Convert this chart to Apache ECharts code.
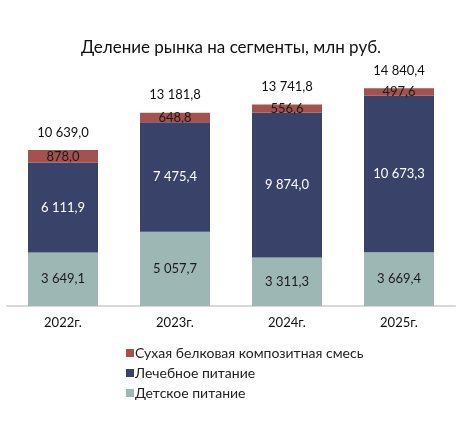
<!DOCTYPE html>
<html>
<head>
<meta charset="utf-8">
<script src="https://cdn.jsdelivr.net/npm/echarts@6/dist/echarts.min.js"></script>
<style>
  html, body { margin: 0; padding: 0; background: #fff; }
  #chart { width: 462px; height: 444px; }
</style>
</head>
<body>
<div id="chart"></div>
<script>
var years = ["2022г.", "2023г.", "2024г.", "2025г."];
var detskoe = [3649.1, 5057.7, 3311.3, 3669.4];
var lechebnoe = [6111.9, 7475.4, 9874.0, 10673.3];
var sukhaya = [878.0, 648.8, 556.6, 497.6];
var totals = [10639.0, 13181.8, 13741.8, 14840.4];

// 10639 -> "10 639,0"
function fmt(v) {
  var parts = v.toFixed(1).split(".");
  return parts[0].replace(/\B(?=(\d{3})+(?!\d))/g, " ") + "," + parts[1];
}

var chart = echarts.init(document.getElementById("chart"));
var font = "Lato, 'Noto Sans', sans-serif";

var option = {
  textStyle: { fontFamily: font },
  title: {
    text: "Деление рынка на сегменты, млн руб.",
    left: "center",
    top: 34,
    textStyle: { fontSize: 17, fontWeight: "normal", color: "#111", fontFamily: font }
  },
  legend: {
    orient: "vertical",
    left: 121,
    top: 341,
    itemWidth: 8,
    itemHeight: 8,
    itemGap: 6,
    icon: "rect",
    textStyle: { fontSize: 14, color: "#222", padding: [0, 0, 0, -4] },
    data: ["Сухая белковая композитная смесь", "Лечебное питание", "Детское питание"]
  },
  grid: { left: 7, right: 7, top: 86, bottom: 138 },
  xAxis: {
    type: "category",
    data: years,
    axisLine: { lineStyle: { color: "#d9d9d9", width: 2 } },
    axisTick: { show: false },
    axisLabel: { fontSize: 13, color: "#111", margin: 10 }
  },
  yAxis: { type: "value", min: 0, max: 15000, show: false, splitLine: { show: false } },
  series: [
    {
      name: "Детское питание",
      type: "bar",
      stack: "t",
      barWidth: 70,
      itemStyle: { color: "#9db8b4" },
      label: { show: true, position: "inside", color: "#1a1a1a", fontSize: 13,
        formatter: function (p) { return fmt(p.value); } },
      data: detskoe
    },
    {
      name: "Лечебное питание",
      type: "bar",
      stack: "t",
      itemStyle: { color: "#394369" },
      label: { show: true, position: "inside", color: "#fff", fontSize: 13,
        formatter: function (p) { return fmt(p.value); } },
      data: lechebnoe
    },
    {
      name: "Сухая белковая композитная смесь",
      type: "bar",
      stack: "t",
      itemStyle: { color: "#a4524f" },
      label: { show: true, position: "inside", color: "#1a1a1a", fontSize: 13,
        formatter: function (p) { return fmt(p.value); } },
      data: sukhaya
    },
    {
      name: "total",
      type: "bar",
      stack: "t",
      itemStyle: { color: "transparent" },
      label: { show: true, position: "top", distance: 11, color: "#111", fontSize: 13,
        formatter: function (p) { return fmt(totals[p.dataIndex]); } },
      data: totals.map(function () { return 0; })
    }
  ]
};
chart.setOption(option);
</script>
</body>
</html>
